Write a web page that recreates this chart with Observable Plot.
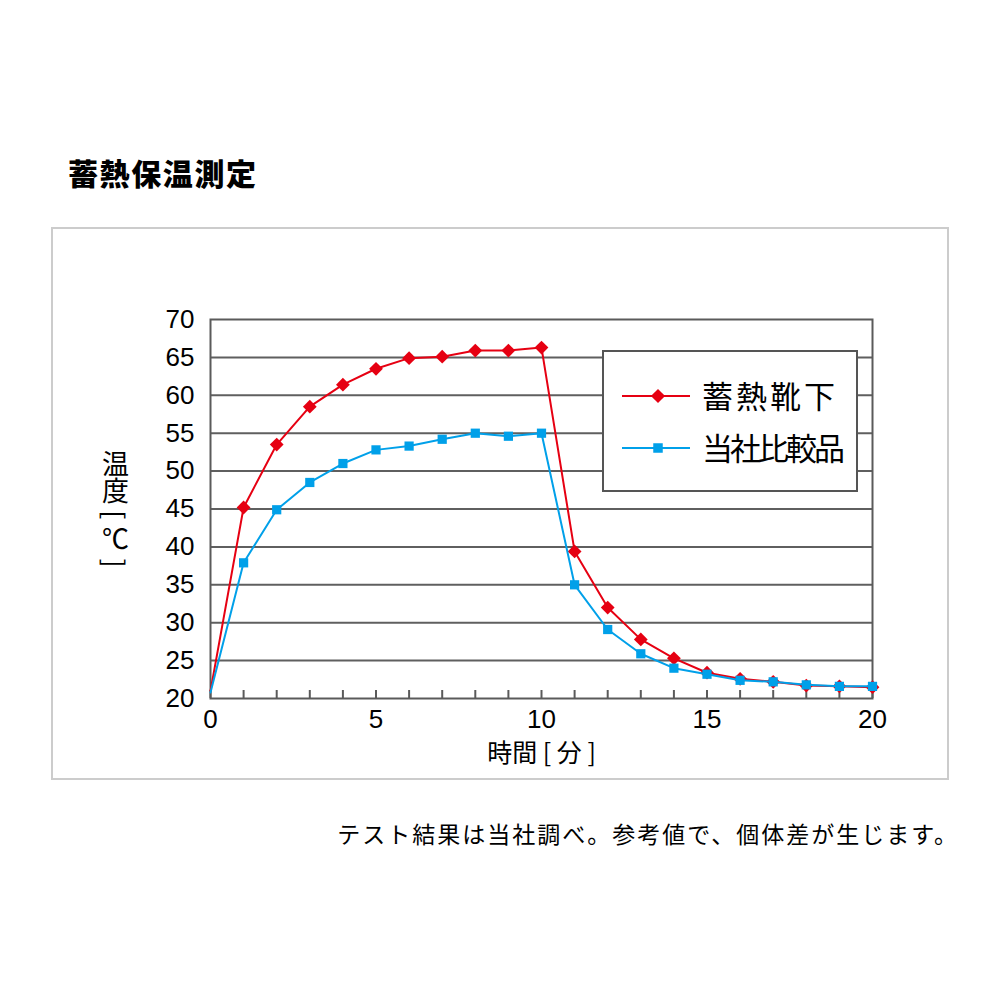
<!DOCTYPE html>
<html><head><meta charset="utf-8">
<script src="https://cdn.jsdelivr.net/npm/d3@7"></script>
<script src="https://cdn.jsdelivr.net/npm/@observablehq/plot@0.6"></script>
<style>
body{margin:0;background:#fff;}
#page{position:relative;width:1000px;height:1000px;font-family:"Noto Sans CJK JP",sans-serif;color:#000;}
#title{position:absolute;left:68px;top:152px;font-size:30px;font-weight:900;letter-spacing:1.6px;line-height:40px;white-space:nowrap;}
#box{position:absolute;left:51px;top:227px;width:898px;height:553px;box-sizing:border-box;border:2px solid #ccc;}
#chart{position:absolute;left:0;top:0;}
#legend{position:absolute;left:602px;top:350px;width:256px;height:142px;box-sizing:border-box;border:2px solid #555;background:#fff;}
#legend svg{position:absolute;left:0;top:0;}
.lg{position:absolute;left:98px;font-size:31px;line-height:40px;white-space:nowrap;}
#caption{position:absolute;right:41px;top:817px;font-size:23px;letter-spacing:2px;line-height:32px;white-space:nowrap;}
</style></head>
<body>
<div id="page">
  <div id="title">蓄熱保温測定</div>
  <div id="box"><div id="chart"></div></div>
  <div id="legend"></div>
  <div id="caption">テスト結果は当社調べ。参考値で、個体差が生じます。</div>
</div>
<script>
// ---- data ----
const minutes = [0,1,2,3,4,5,6,7,8,9,10,11,12,13,14,15,16,17,18,19,20];
const seriesNames = ["蓄熱靴下", "当社比較品"];
const seriesColors = ["#e60012", "#00a0e9"];
const chikunetsu = [21.0,45.2,53.5,58.5,61.4,63.5,64.9,65.1,65.9,65.9,66.3,39.4,32.0,27.8,25.3,23.4,22.6,22.2,21.7,21.6,21.5];
const hikaku     = [20.8,37.9,44.9,48.5,51.0,52.8,53.3,54.2,55.0,54.6,55.0,35.0,29.1,25.9,24.0,23.2,22.4,22.2,21.8,21.6,21.6];
const yTicks = [20,25,30,35,40,45,50,55,60,65,70];
const xTicks = [0,5,10,15,20];
const xLabel = "時間 [ 分 ]";
const yLabel = "温度 [ ℃ ]";

const red = minutes.map((t,i)=>({t, v: chikunetsu[i]}));
const blue = minutes.map((t,i)=>({t, v: hikaku[i]}));
const numFont = "'Liberation Sans', Arial, sans-serif";
const jpFont = "'Noto Sans CJK JP', sans-serif";

const chart = Plot.plot({
  width: 894, height: 549,
  marginLeft: 157, marginRight: 75, marginTop: 90, marginBottom: 80,
  style: {fontFamily: numFont, fontSize: "26px", color: "#000", background: "transparent"},
  x: {domain: [0,20]},
  y: {domain: [20,70]},
  marks: [
    Plot.gridY(yTicks.slice(1,-1), {stroke: "#5f5f5f", strokeOpacity: 1, strokeWidth: 2}),
    Plot.frame({stroke: "#5a5a5a", strokeWidth: 2}),
    Plot.axisX(minutes, {tickSize: -8, stroke: "#5a5a5a", strokeWidth: 2, text: null, label: null}),
    Plot.axisX(xTicks, {tickSize: 0, tickPadding: 11, fontSize: 26, label: null}),
    Plot.axisY(yTicks, {tickSize: 0, tickPadding: 16, fontSize: 26, label: null}),
    Plot.line(red, {x: "t", y: "v", stroke: seriesColors[0], strokeWidth: 2}),
    Plot.dot(red.slice(1), {x: "t", y: "v", symbol: "square", r: 5.5, rotate: 45, fill: seriesColors[0], stroke: null}),
    Plot.line(blue, {x: "t", y: "v", stroke: seriesColors[1], strokeWidth: 2}),
    Plot.dot(blue.slice(1), {x: "t", y: "v", symbol: "square", r: 5.2, fill: seriesColors[1], stroke: null}),
    Plot.text([xLabel], {frameAnchor: "bottom", dy: 55, fontSize: 25, fontFamily: jpFont, textAnchor: "middle", lineAnchor: "middle"}),
    Plot.text([yLabel], {frameAnchor: "left", dx: -95, fontSize: 27, fontFamily: jpFont, textAnchor: "middle"})
  ]
});
document.getElementById("chart").appendChild(chart);
// vertical writing for y label
d3.select(chart).selectAll("text").filter(function(){return this.textContent === yLabel;})
  .attr("writing-mode", "vertical-rl").attr("y", null).attr("dy", null)
  .style("text-orientation", "mixed");

// legend
const lg = document.getElementById("legend");
const rows = [{y: 44, name: seriesNames[0], color: seriesColors[0], sym: "diamond"},
              {y: 96, name: seriesNames[1], color: seriesColors[1], sym: "square"}];
const svg = d3.create("svg").attr("width", 252).attr("height", 138);
rows.forEach(r => {
  svg.append("line").attr("x1", 18).attr("x2", 86).attr("y1", r.y).attr("y2", r.y)
    .attr("stroke", r.color).attr("stroke-width", 2);
  const s = r.sym === "diamond" ? 10 : 9.5;
  svg.append("rect").attr("x", -s/2).attr("y", -s/2).attr("width", s).attr("height", s)
    .attr("fill", r.color)
    .attr("transform", `translate(54,${r.y})` + (r.sym === "diamond" ? " rotate(45)" : ""));
});
lg.appendChild(svg.node());
rows.forEach((r,i) => {
  const d = document.createElement("div");
  d.className = "lg";
  d.textContent = r.name;
  d.style.top = (r.y - 21) + "px";
  d.style.letterSpacing = i === 0 ? "3px" : "-3px";
  lg.appendChild(d);
});
</script>
</body></html>
